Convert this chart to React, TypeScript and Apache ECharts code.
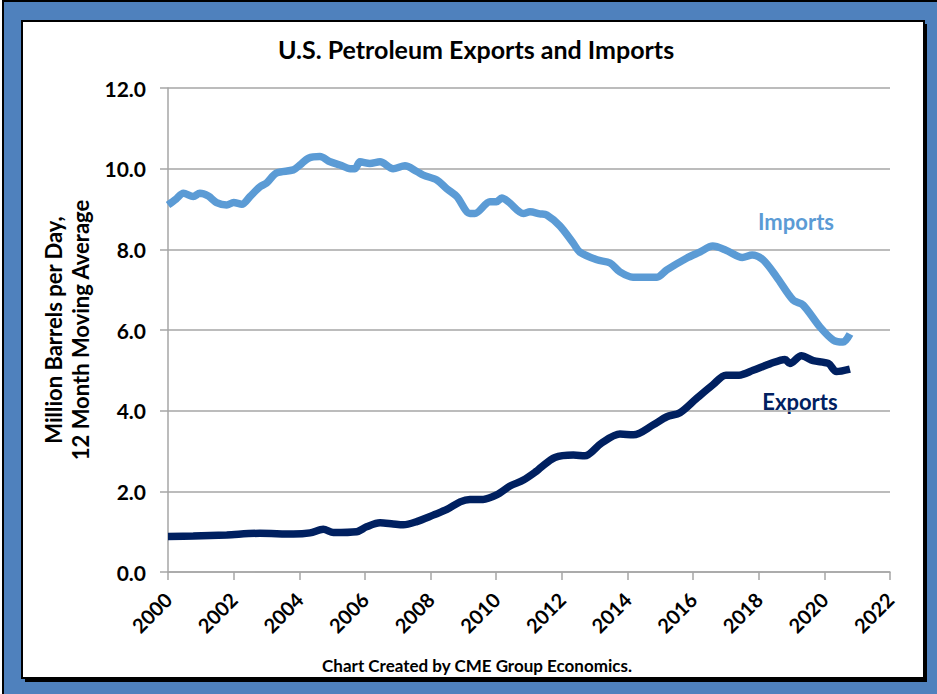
import React, { useEffect, useRef } from "react";
import * as echarts from "echarts";

const importYears = [2000.0, 2000.25, 2000.47, 2000.77, 2000.97, 2001.23, 2001.48, 2001.79, 2002.0, 2002.25, 2002.5, 2002.8, 2003.0, 2003.3, 2003.82, 2004.02, 2004.28, 2004.63, 2004.94, 2005.24, 2005.55, 2005.7, 2005.85, 2006.15, 2006.46, 2006.86, 2007.22, 2007.58, 2007.78, 2008.19, 2008.5, 2008.8, 2009.2, 2009.35, 2009.81, 2010.01, 2010.17, 2010.37, 2010.83, 2011.03, 2011.33, 2011.54, 2011.94, 2012.35, 2012.55, 2013.07, 2013.47, 2013.77, 2014.17, 2014.9, 2015.2, 2015.8, 2016.2, 2016.6, 2017.0, 2017.5, 2017.8, 2018.13, 2018.55, 2019.05, 2019.35, 2019.87, 2020.27, 2020.57, 2020.78];
const importValues = [9.1, 9.25, 9.39, 9.31, 9.39, 9.32, 9.16, 9.1, 9.16, 9.12, 9.31, 9.55, 9.64, 9.89, 9.97, 10.09, 10.26, 10.3, 10.17, 10.09, 10.0, 10.0, 10.17, 10.13, 10.17, 10.0, 10.07, 9.93, 9.84, 9.72, 9.5, 9.31, 8.89, 8.89, 9.18, 9.18, 9.27, 9.18, 8.89, 8.93, 8.88, 8.85, 8.58, 8.15, 7.93, 7.74, 7.66, 7.44, 7.31, 7.31, 7.49, 7.78, 7.93, 8.08, 7.98, 7.8, 7.86, 7.74, 7.31, 6.74, 6.62, 6.07, 5.75, 5.7, 5.9];

const exportYears = [2000, 2000.77, 2001.79, 2002.8, 2003.82, 2004.33, 2004.73, 2005.04, 2005.75, 2006.05, 2006.46, 2006.86, 2007.17, 2007.58, 2008.08, 2008.5, 2008.9, 2009.2, 2009.6, 2010.01, 2010.42, 2010.83, 2011.23, 2011.33, 2011.79, 2012.35, 2012.7, 2013.2, 2013.77, 2014.18, 2014.79, 2015.2, 2015.6, 2016.1, 2016.6, 2017.0, 2017.4, 2017.83, 2018.34, 2018.8, 2018.95, 2019.3, 2019.66, 2020.12, 2020.37, 2020.78];
const exportValues = [0.88, 0.89, 0.92, 0.96, 0.94, 0.97, 1.06, 0.98, 1.0, 1.12, 1.22, 1.19, 1.17, 1.25, 1.41, 1.55, 1.74, 1.8, 1.8, 1.91, 2.13, 2.28, 2.5, 2.57, 2.84, 2.9, 2.88, 3.19, 3.42, 3.4, 3.65, 3.85, 3.95, 4.3, 4.64, 4.88, 4.88, 5.0, 5.16, 5.27, 5.17, 5.36, 5.24, 5.17, 4.97, 5.03];

const TITLE = "U.S. Petroleum Exports and Imports";
const Y_NAME = "Million Barrels per Day,\n12 Month Moving Average";
const FOOTER = "Chart Created by CME Group Economics.";

const FONT = "Lato, 'Open Sans', sans-serif";
const IMPORT_COLOR = "#5B9BD5";
const EXPORT_COLOR = "#002060";

export default function App() {
  const ref = useRef<HTMLDivElement>(null);
  useEffect(() => {
    if (!ref.current) return;
    const chart = echarts.init(ref.current, null, { renderer: "svg" });
    const imports = importYears.map((x, i) => [x, importValues[i]]);
    const exportsData = exportYears.map((x, i) => [x, exportValues[i]]);
    chart.setOption({
      animation: false,
      backgroundColor: "#ffffff",
      textStyle: { fontFamily: FONT },
      grid: { left: 168, right: 47, top: 88, bottom: 122, containLabel: false },
      graphic: [
        { type: "rect", z: -10, shape: { x: 3, y: 1, width: 940, height: 700 }, style: { fill: "#4F81BD", stroke: "#000", lineWidth: 2 }, silent: true },
        { type: "rect", z: -9, shape: { x: 25, y: 24, width: 902, height: 658 }, style: { fill: "#000" }, silent: true },
        { type: "rect", z: -8, shape: { x: 22, y: 21, width: 902, height: 657 }, style: { fill: "#fff", stroke: "#000", lineWidth: 2 }, silent: true },
        { type: "text", x: 476, y: 49, style: { text: TITLE, font: `bold 25px ${FONT}`, fill: "#000", textAlign: "center", textVerticalAlign: "middle" } },
        { type: "text", x: 477, y: 665, style: { text: FOOTER, font: `bold 17px ${FONT}`, fill: "#000", textAlign: "center", textVerticalAlign: "middle" } },
        { type: "text", x: 796, y: 221, style: { text: "Imports", font: `bold 22px ${FONT}`, fill: IMPORT_COLOR, textAlign: "center", textVerticalAlign: "middle" } },
        { type: "text", x: 800, y: 401, style: { text: "Exports", font: `bold 22px ${FONT}`, fill: EXPORT_COLOR, textAlign: "center", textVerticalAlign: "middle" } },
      ],
      xAxis: {
        type: "value",
        min: 2000,
        max: 2022,
        interval: 2,
        axisLine: { show: true, lineStyle: { color: "#A6A6A6", width: 1.5 } },
        axisTick: { show: true, inside: false, length: 8, lineStyle: { color: "#A6A6A6", width: 1.5 } },
        splitLine: { show: false },
        axisLabel: { rotate: 45, color: "#000", fontWeight: "bold", fontSize: 20, fontFamily: FONT, margin: 24, formatter: (v: number) => String(v) },
      },
      yAxis: {
        type: "value",
        min: 0,
        max: 12,
        interval: 2,
        name: Y_NAME,
        nameLocation: "middle",
        nameGap: 70,
        nameTextStyle: { color: "#000", fontWeight: "bold", fontSize: 22, fontFamily: FONT, lineHeight: 27 },
        axisLine: { show: true, lineStyle: { color: "#A6A6A6", width: 1.5 } },
        axisTick: { show: true, length: 8, lineStyle: { color: "#A6A6A6", width: 1.5 } },
        splitLine: { show: true, lineStyle: { color: "#A6A6A6", width: 1.5 } },
        axisLabel: { color: "#000", fontWeight: "bold", fontSize: 21, fontFamily: FONT, margin: 22, formatter: (v: number) => v.toFixed(1) },
      },
      series: [
        { name: "Imports", type: "line", data: imports, showSymbol: false, smooth: 0.3, lineStyle: { color: IMPORT_COLOR, width: 7.5 }, itemStyle: { color: IMPORT_COLOR } },
        { name: "Exports", type: "line", data: exportsData, showSymbol: false, smooth: 0.3, lineStyle: { color: EXPORT_COLOR, width: 7.5 }, itemStyle: { color: EXPORT_COLOR } },
      ],
    });
    return () => chart.dispose();
  }, []);
  return <div ref={ref} style={{ position: "fixed", left: 0, top: 0, width: 937, height: 694 }} />;
}
